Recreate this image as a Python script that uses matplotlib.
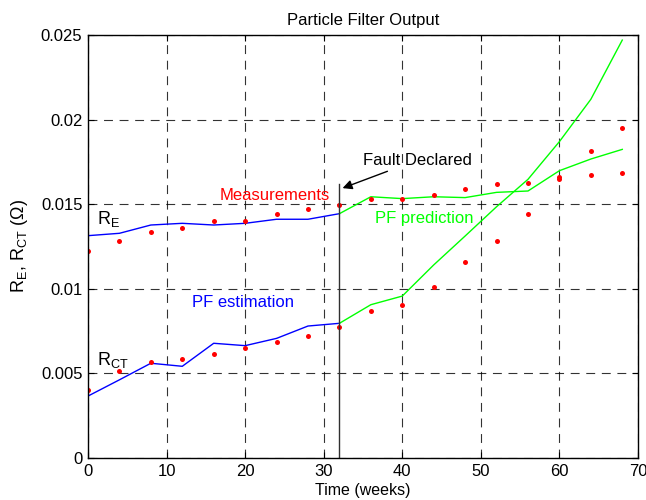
import matplotlib
matplotlib.use('Agg')
import matplotlib.pyplot as plt
import numpy as np
from matplotlib.ticker import MultipleLocator, FixedFormatter, FixedLocator

# 数据：测量值、粒子滤波估计与预测
weeks_meas = [0, 4, 8, 12, 16, 20, 24, 28, 32, 36, 40, 44, 48, 52, 56, 60, 64, 68]
re_meas = [0.01225, 0.01284, 0.01334, 0.01357, 0.01403, 0.01403, 0.01444, 0.01474, 0.01497,
           0.01529, 0.01529, 0.01554, 0.0159, 0.0162, 0.01627, 0.01647, 0.01671, 0.01684]
rct_meas = [0.00402, 0.00516, 0.00569, 0.00583, 0.00613, 0.0065, 0.00686, 0.00721, 0.00772,
            0.00867, 0.00904, 0.01013, 0.0116, 0.01284, 0.01444, 0.01663, 0.01816, 0.01948]

weeks_est = [0, 4, 8, 12, 16, 20, 24, 28, 32]
re_est = [0.01314, 0.01328, 0.01377, 0.01387, 0.01377, 0.01387, 0.01411, 0.01411, 0.01444]
rct_est = [0.00366, 0.00462, 0.0056, 0.00542, 0.00678, 0.00664, 0.00707, 0.0078, 0.00796]

weeks_pred = [32, 36, 40, 44, 48, 52, 56, 60, 64, 68]
re_pred = [0.01444, 0.01544, 0.01533, 0.01544, 0.01539, 0.0157, 0.01578, 0.01698, 0.01767, 0.01824]
rct_pred = [0.00796, 0.00906, 0.00957, 0.01141, 0.01312, 0.01485, 0.01647, 0.0187, 0.0212, 0.0247]

fault_week = 32
fault_top = 0.01618

plt.rcParams['font.family'] = ['Liberation Sans', 'DejaVu Sans']
plt.rcParams['font.size'] = 12
plt.rcParams['mathtext.fontset'] = 'custom'
plt.rcParams['mathtext.rm'] = 'Liberation Sans'
plt.rcParams['mathtext.it'] = 'Liberation Sans'

fig = plt.figure(figsize=(6.46, 5.0), dpi=100)
ax = fig.add_axes([0.1362, 0.084, 0.8514, 0.846])

ax.plot(weeks_est, re_est, color=(0, 0, 1), lw=1)
ax.plot(weeks_est, rct_est, color=(0, 0, 1), lw=1)
ax.plot(weeks_pred, re_pred, color=(0, 1, 0), lw=1)
ax.plot(weeks_pred, rct_pred, color=(0, 1, 0), lw=1)
ax.plot(weeks_meas, re_meas, 'o', color=(1, 0, 0), ms=3.6, mec='none')
ax.plot(weeks_meas, rct_meas, 'o', color=(1, 0, 0), ms=3.6, mec='none')

# 故障声明竖线
ax.plot([fault_week, fault_week], [0, fault_top], color='#303030', lw=1)
ax.annotate('Fault Declared', xy=(32.4, 0.01595), xytext=(35.0, 0.01761),
            ha='left', va='center', fontsize=12,
            arrowprops=dict(arrowstyle='-|>', color='black', lw=1, mutation_scale=14,
                            shrinkA=2, shrinkB=0))

ax.text(23.8, 0.0155, 'Measurements', color=(1, 0, 0), ha='center', va='center')
ax.text(19.7, 0.00918, 'PF estimation', color=(0, 0, 1), ha='center', va='center')
ax.text(42.8, 0.01418, 'PF prediction', color=(0, 1, 0), ha='center', va='center')
ax.text(1.1, 0.01414, r'R$_\mathrm{E}$', ha='left', va='center', fontsize=13)
ax.text(1.1, 0.00582, r'R$_\mathrm{CT}$', ha='left', va='center', fontsize=13)

ax.set_xlim(0, 70)
ax.set_ylim(0, 0.025)
ax.xaxis.set_major_locator(MultipleLocator(10))
yt = [0, 0.005, 0.01, 0.015, 0.02, 0.025]
ax.yaxis.set_major_locator(FixedLocator(yt))
ax.yaxis.set_major_formatter(FixedFormatter(['0', '0.005', '0.01', '0.015', '0.02', '0.025']))
ax.tick_params(direction='in', top=True, right=True, length=4, width=0.8, labelsize=12, pad=4)
ax.grid(True, color='black', linestyle=(0, (8, 6)), linewidth=0.8, alpha=0.8)
for s in ax.spines.values():
    s.set_linewidth(1)

ax.set_title('Particle Filter Output', fontsize=12, pad=7)
ax.set_xlabel('Time (weeks)', fontsize=11.5, labelpad=3)
ax.set_ylabel(r'R$_\mathrm{E}$, R$_\mathrm{CT}$ ($\Omega$)', fontsize=13, labelpad=8)

plt.savefig('out.png', dpi=100)
